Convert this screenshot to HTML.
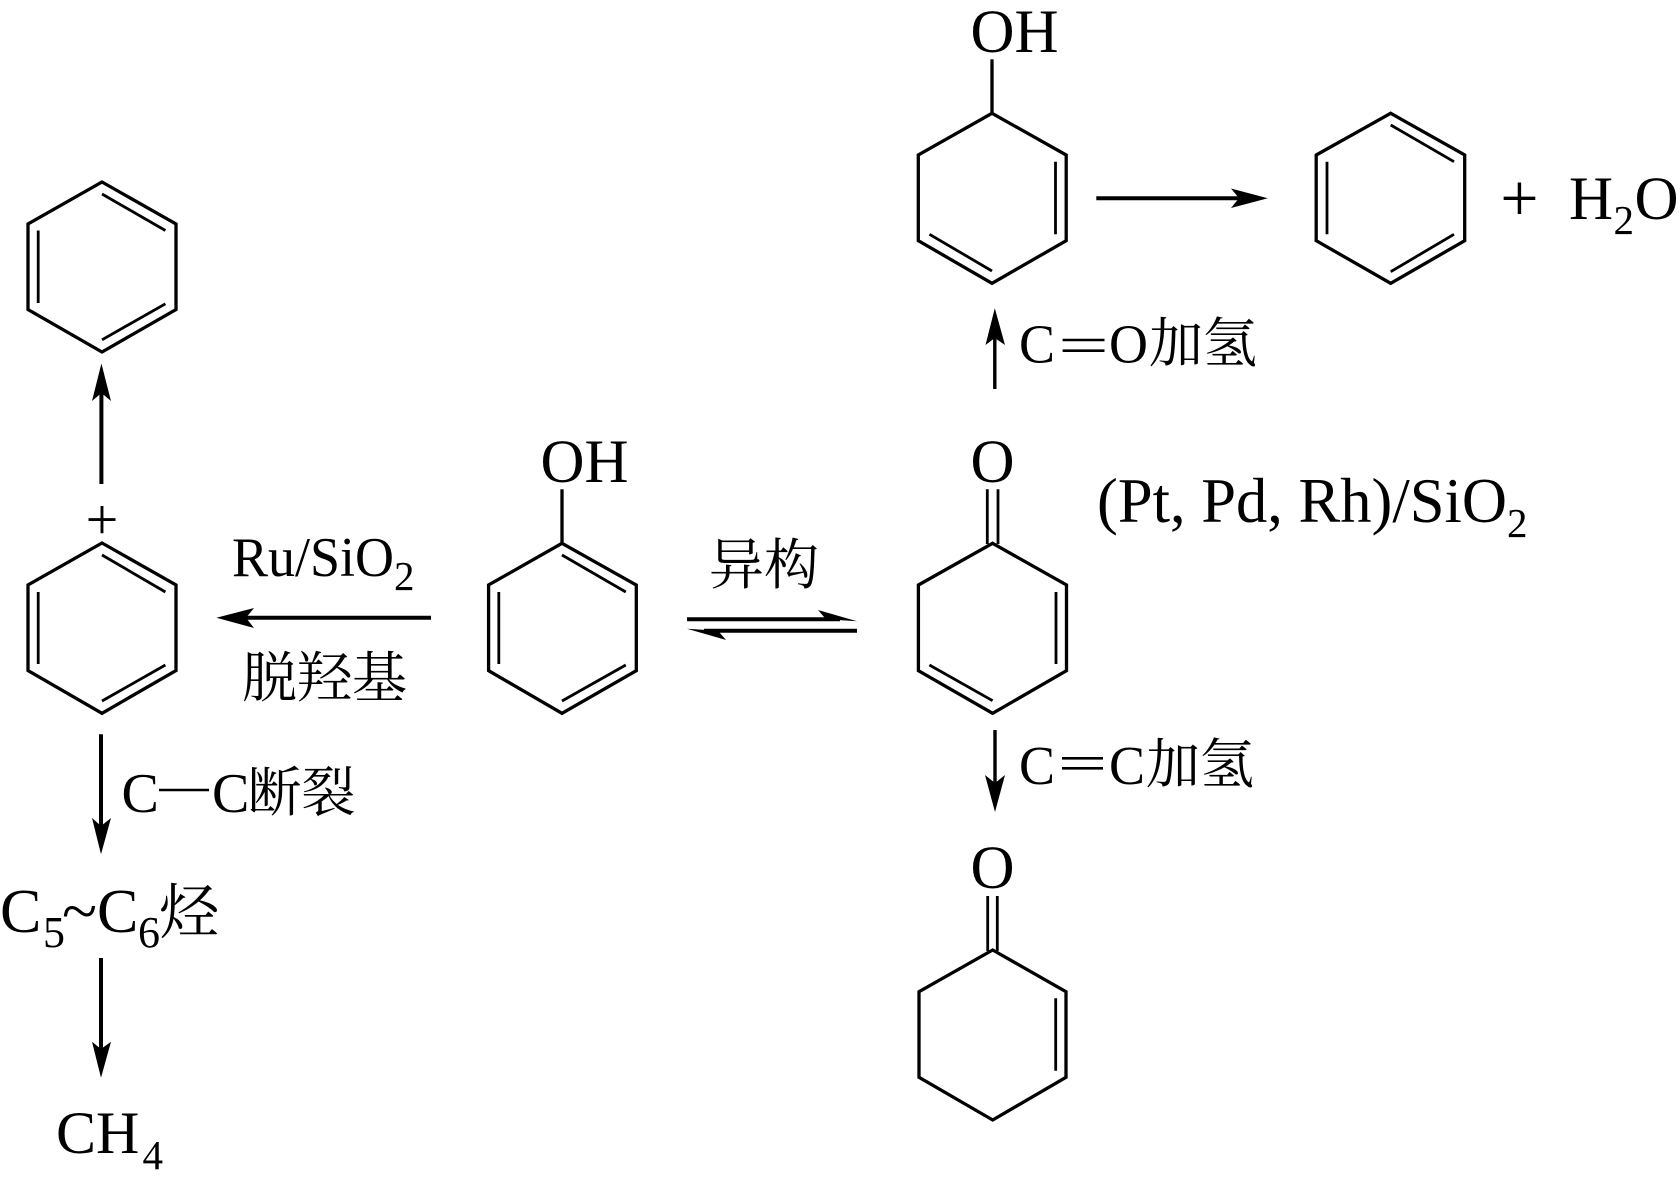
<!DOCTYPE html>
<html lang="zh">
<head>
<meta charset="utf-8">
<style>
html,body{margin:0;padding:0;background:#fff;width:1680px;height:1190px;overflow:hidden}
svg{display:block}
text{font-family:"Liberation Serif","Noto Serif CJK SC",serif;fill:#000}
.zh{font-family:"Noto Serif CJK SC","Liberation Serif",serif;font-weight:400}
.b{fill:none;stroke:#000;stroke-width:3.3;stroke-linejoin:miter;stroke-linecap:butt}
.i{fill:none;stroke:#000;stroke-width:2.8}
.a{fill:none;stroke:#000;stroke-width:4}
</style>
</head>
<body>
<svg width="1680" height="1190" viewBox="0 0 1680 1190" xmlns="http://www.w3.org/2000/svg">
<rect width="1680" height="1190" fill="#fff"/>

<!-- Ring A: benzene top-left -->
<polygon class="b" points="102,182 176,224 176,309.5 102,352 28,309.5 28,224"/>
<path class="i" d="M38.2,230.5V303 M102,194 L165.4,230.5 M165.4,303.8 L102,339.8"/>
<path class="a" d="M101.4,484V390"/>
<polygon points="101.4,363.5 111,401 101.4,393 92,401"/>
<text x="102" y="539" font-size="58" text-anchor="middle">+</text>

<!-- Ring B: cation -->
<polygon class="b" points="102,543 176,585 176,670.5 102,713.3 28,670.5 28,585"/>
<path class="i" d="M38.2,592V664 M102,555 L165.4,592 M165.4,665 L102,701"/>

<!-- Ru/SiO2 -->
<text x="232" y="576" font-size="56" textLength="162" lengthAdjust="spacingAndGlyphs">Ru/SiO</text>
<text x="394" y="590" font-size="41">2</text>
<path class="a" d="M431,617.7H235"/>
<polygon points="216.4,617.7 254,608 246,617.7 254,628"/>
<text class="zh" x="242" y="697" font-size="55">脱羟基</text>

<!-- Left downward arrows -->
<path class="a" d="M101,734.3V828"/>
<polygon points="101,854.3 111,818 101,826 92,818"/>
<text x="121.5" y="812" font-size="56">C</text>
<path d="M159,790H209" stroke="#000" stroke-width="2.4"/>
<text x="212" y="812" font-size="56">C</text>
<text class="zh" x="247.5" y="811" font-size="54">断裂</text>

<text x="0" y="932" font-size="62">C</text>
<text x="43" y="947" font-size="44">5</text>
<text x="62" y="932" font-size="62" textLength="35" lengthAdjust="spacingAndGlyphs">~</text>
<text x="97" y="932" font-size="62">C</text>
<text x="138" y="947" font-size="44">6</text>
<text class="zh" x="159" y="933" font-size="60">烃</text>

<path class="a" d="M101,958V1052"/>
<polygon points="101,1077.7 111,1041.7 101,1049 92,1041.7"/>
<text x="56" y="1153" font-size="60">CH</text>
<text x="142.5" y="1169" font-size="41">4</text>

<!-- Ring C: phenol -->
<text x="540.5" y="482" font-size="61" textLength="88" lengthAdjust="spacingAndGlyphs">OH</text>
<path class="b" d="M562,489.3V543"/>
<polygon class="b" points="562,543.3 636.3,585 636.3,670.7 562,713.3 488.6,670.7 488.6,585"/>
<path class="i" d="M498.8,592V664 M562,555 L625.8,592 M625.8,665 L562,701"/>

<!-- Equilibrium -->
<text class="zh" x="709" y="584" font-size="55">异构</text>
<path class="a" d="M687,619.3H840 M857,630.7H704"/>
<polygon points="857,621.3 818,610 826,619.3"/>
<polygon points="687,628.7 726,640 718,630.7"/>

<!-- Ring D: dienone -->
<text x="970.5" y="482" font-size="61">O</text>
<path class="i" d="M987.3,489.3V544 M998,489.3V544"/>
<polygon class="b" points="992.6,543.3 1066.5,585 1066.5,670.7 992.6,713.3 918.4,670.7 918.4,585"/>
<path class="i" d="M1056,592V664 M929.4,665 L992.6,700.7"/>

<!-- (Pt, Pd, Rh)/SiO2 -->
<text x="1097" y="522" font-size="63" textLength="410" lengthAdjust="spacingAndGlyphs">(Pt, Pd, Rh)/SiO</text>
<text x="1507" y="537" font-size="41">2</text>

<!-- Ring E: top -->
<text x="970.5" y="52" font-size="61" textLength="88" lengthAdjust="spacingAndGlyphs">OH</text>
<path class="b" d="M992,59.3V113"/>
<polygon class="b" points="992,113.3 1066.2,155 1066.2,240.7 992,283.3 918.3,240.7 918.3,155"/>
<path class="i" d="M1055.5,161.7V234.3 M929.5,234.3 L992,271"/>

<!-- Right arrow -->
<path class="a" d="M1096.3,198.3H1245"/>
<polygon points="1267.8,198.3 1231,188.5 1239,198.3 1231,208"/>

<!-- Ring F: benzene top-right -->
<polygon class="b" points="1390.7,113.3 1464.7,155 1464.7,240.7 1390.7,283.3 1316.2,240.7 1316.2,155"/>
<path class="i" d="M1327,161.7V234.3 M1390.7,125 L1454,161.7 M1454,234.3 L1390.7,271.7"/>
<text x="1500.3" y="221" font-size="68">+</text>
<text x="1569" y="219" font-size="61">H</text>
<text x="1613.5" y="234" font-size="41">2</text>
<text x="1634.5" y="219" font-size="61">O</text>

<!-- C=O hydrogenation -->
<path d="M994.8,389V335" stroke="#000" stroke-width="3.4" fill="none"/>
<polygon points="994.8,308.3 1005,345 994.8,338 985.5,345"/>
<text x="1019" y="362.5" font-size="55" textLength="36" lengthAdjust="spacingAndGlyphs">C</text>
<path d="M1062.6,340H1104.5 M1062.6,350.7H1104.5" stroke="#000" stroke-width="2.6" fill="none"/>
<text x="1109" y="362.5" font-size="55" textLength="39" lengthAdjust="spacingAndGlyphs">O</text>
<text class="zh" x="1149" y="362" font-size="54">加氢</text>

<!-- C=C hydrogenation -->
<path d="M995,730V785" stroke="#000" stroke-width="3.4" fill="none"/>
<polygon points="995,812 1005,775 995,783 985,775"/>
<text x="1019" y="784" font-size="55" textLength="36" lengthAdjust="spacingAndGlyphs">C</text>
<path d="M1062,758.3H1103 M1062,768.3H1103" stroke="#000" stroke-width="2.6" fill="none"/>
<text x="1109" y="784" font-size="55" textLength="36" lengthAdjust="spacingAndGlyphs">C</text>
<text class="zh" x="1146" y="783" font-size="54">加氢</text>

<!-- Ring G: cyclohexenone -->
<text x="970.5" y="888" font-size="61">O</text>
<path class="i" d="M987.7,896V951 M997.3,896V951"/>
<polygon class="b" points="992.7,950 1066,991.7 1066,1077.3 992.7,1120 919,1077.3 919,991.7"/>
<path class="i" d="M1055.7,998.3V1070.7"/>
</svg>
</body>
</html>
